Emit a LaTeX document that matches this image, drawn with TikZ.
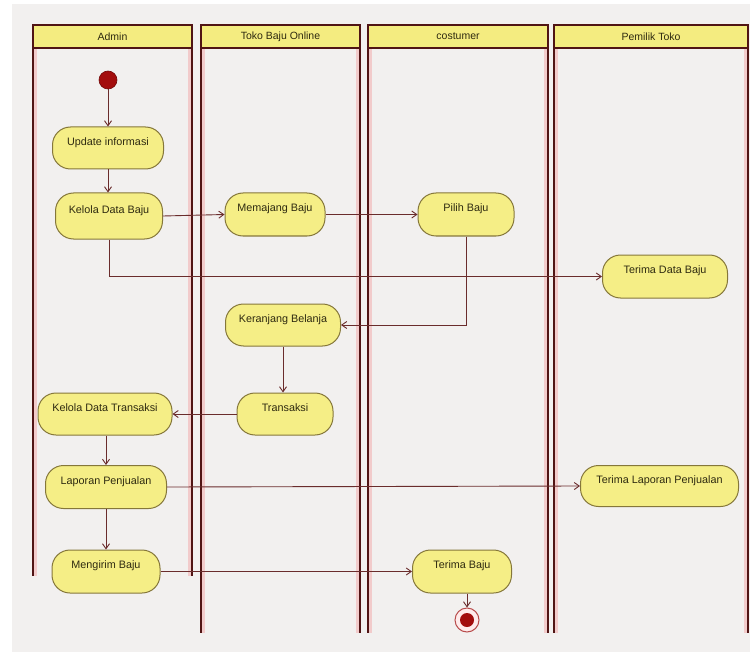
\documentclass[tikz,border=0pt]{standalone}
\usepackage{fontspec}
\setmainfont{Liberation Sans}
\usetikzlibrary{arrows.meta}
\definecolor{bg}{HTML}{F2F0EF}
\definecolor{lanec}{HTML}{501414}
\definecolor{glow}{HTML}{F2A8A8}
\definecolor{hdrfill}{HTML}{F4EC80}
\definecolor{actfill}{HTML}{F5EE86}
\definecolor{actline}{HTML}{85773A}
\definecolor{flowc}{HTML}{6A2C2C}
\definecolor{txt}{HTML}{2E2A10}
\definecolor{startc}{HTML}{A30D0D}
\begin{document}
\begin{tikzpicture}[x=1pt,y=-1pt,
  lanebar/.style={draw=lanec, line width=1.7pt},
  laneglow/.style={draw=glow, line width=4.5pt, opacity=0.5},
  hdrbox/.style={fill=hdrfill, draw=lanec, line width=1.7pt},
  hdrtext/.style={font=\fontsize{10.5}{12}\selectfont, text=txt, inner sep=0pt},
  act/.style={draw=actline, fill=actfill, line width=1pt, rounded corners=18pt,
    minimum height=42pt, inner sep=2pt, text=txt, text height=7.5pt, text depth=13pt,
    font=\fontsize{10.8}{12}\selectfont},
  flow/.style={draw=flowc, line width=0.9pt, -{Straight Barb[length=5pt,width=7pt]}},
  startdot/.style={circle, fill=startc, draw=startc!70!black, line width=0.6pt, minimum size=18pt, inner sep=0pt},
  endring/.style={circle, fill=red!8, draw=red!60!black!70, line width=1pt, minimum size=24pt, inner sep=0pt},
  enddot/.style={circle, fill=startc, minimum size=14pt, inner sep=0pt}
]
\useasboundingbox (0,0) rectangle (754,652);
\fill[white] (0,0) rectangle (754,652);
\fill[bg] (12,4) rectangle (750,652);

% swimlanes
\foreach \l/\r/\b/\t in {33/192/576/Admin, 201/360/633/Toko Baju Online,
                         368/548/633/costumer, 554/748/633/Pemilik Toko}{
  \draw[laneglow] ({\l+2},48) -- ({\l+2},\b);
  \draw[laneglow] ({\r-2},48) -- ({\r-2},\b);
  \draw[lanebar] (\l,25) -- (\l,\b);
  \draw[lanebar] (\r,25) -- (\r,\b);
  \draw[hdrbox] (\l,25) rectangle (\r,48);
  \node[hdrtext, name=lane\l] at ({(\l+\r)/2},36.5) {\t};
}

% activities
\node[startdot] (start) at (108,80) {};
\node[act, minimum width=111pt] (upd) at (108,148) {Update informasi};
\node[act, minimum width=107pt, minimum height=46pt] (kdb) at (109,216) {Kelola Data Baju};
\node[act, minimum width=100pt, minimum height=43pt] (mem) at (275,214.5) {Memajang Baju};
\node[act, minimum width=96pt, minimum height=43pt] (pil) at (466,214.5) {Pilih Baju};
\node[act, minimum width=125pt, minimum height=43pt] (tdb) at (665,276.5) {Terima Data Baju};
\node[act, minimum width=115pt] (ker) at (283,325) {Keranjang Belanja};
\node[act, minimum width=96pt] (tra) at (285,414) {Transaksi};
\node[act, minimum width=134pt] (kdt) at (105,414) {Kelola Data Transaksi};
\node[act, minimum width=121pt, minimum height=43pt] (lap) at (106,487) {Laporan Penjualan};
\node[act, minimum width=158pt, minimum height=41pt] (tlp) at (659.5,486) {Terima Laporan Penjualan};
\node[act, minimum width=108pt, minimum height=43pt] (kir) at (106,571.5) {Mengirim Baju};
\node[act, minimum width=99pt, minimum height=43pt] (tbj) at (462,571.5) {Terima Baju};
\node[endring] (end) at (467,620) {};
\node[enddot] (enddot) at (end) {};

% control flow
\draw[flow] (start) -- (upd);
\draw[flow] (upd.south) -- (upd.south |- kdb.north);
\draw[flow] (kdb.east) -- (mem.west);
\draw[flow] (mem.east) -- (pil.west);
\draw[flow] (kdb.south) |- (tdb.west);
\draw[flow] (pil.south) |- (ker.east);
\draw[flow] (ker.south) -- (ker.south |- tra.north);
\draw[flow] (tra.west) -- (kdt.east);
\draw[flow] (lap.north |- kdt.south) -- (lap.north);
\draw[flow] (lap.east) -- (tlp.west);
\draw[flow] (lap.south) -- (kir.north);
\draw[flow] (kir.east) -- (tbj.west);
\draw[flow] (end.north |- tbj.south) -- (end.north);
\end{tikzpicture}
\end{document}
